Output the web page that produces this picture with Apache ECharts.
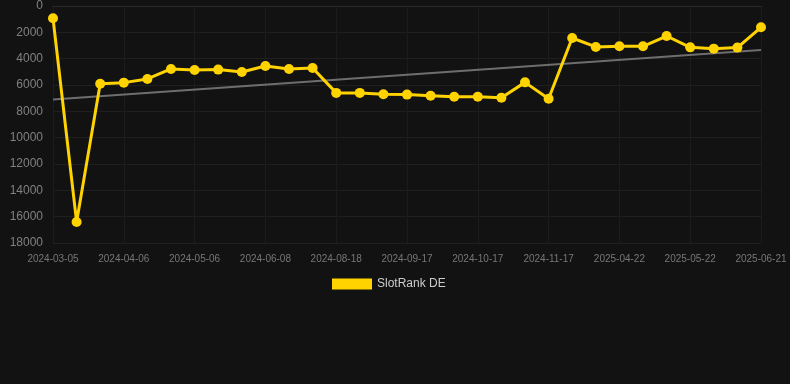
<!DOCTYPE html>
<html>
<head>
<meta charset="utf-8">
<script src="https://cdn.jsdelivr.net/npm/echarts@6/dist/echarts.min.js"></script>
<style>
	html, body { margin: 0; padding: 0; background: #121212; }
	#chart { width: 790px; height: 384px; }
</style>
</head>
<body>
<div id="chart"></div>
<script>
var dates = ['2024-03-05', '2024-03-16', '2024-03-26', '2024-04-06', '2024-04-16', '2024-04-26',
	'2024-05-06', '2024-05-16', '2024-05-27', '2024-06-08', '2024-06-20', '2024-07-15',
	'2024-08-18', '2024-08-28', '2024-09-07', '2024-09-17', '2024-09-27', '2024-10-07',
	'2024-10-17', '2024-10-27', '2024-11-06', '2024-11-17', '2025-03-23', '2025-04-02',
	'2025-04-22', '2025-05-02', '2025-05-12', '2025-05-22', '2025-06-01', '2025-06-11',
	'2025-06-21'];
var rankDE = [930, 16400, 5900, 5820, 5540, 4780, 4860, 4830, 5010, 4560, 4780, 4710,
	6600, 6600, 6700, 6730, 6810, 6890, 6890, 6960, 5800, 7040,
	2430, 3110, 3060, 3060, 2280, 3140, 3240, 3160, 1620];
var trendStart = 7110;
var trendEnd = 3340;
var yTicks = { min: 0, max: 18000, interval: 2000 };

var chart = echarts.init(document.getElementById('chart'));
var last = dates.length - 1;

chart.setOption({
	backgroundColor: '#121212',
	animation: false,
	grid: { left: 53, right: 29, top: 6, bottom: 141 },
	legend: {
		show: true,
		top: 273,
		left: 327,
		icon: 'rect',
		itemWidth: 40,
		itemHeight: 11,
		itemGap: 10,
		data: ['SlotRank DE'],
		textStyle: { color: '#cccccc', fontSize: 12, fontFamily: 'Liberation Sans' }
	},
	xAxis: {
		type: 'category',
		boundaryGap: false,
		data: dates,
		axisLine: { show: true, lineStyle: { color: '#2a2a2a', width: 1 } },
		axisTick: { show: false },
		axisLabel: {
			interval: 2,
			color: '#777777',
			fontSize: 10,
			margin: 11,
			fontFamily: 'Liberation Sans'
		},
		splitLine: { show: true, interval: 2, lineStyle: { color: '#1c1c1c', width: 1 } }
	},
	yAxis: {
		type: 'value',
		inverse: true,
		min: yTicks.min,
		max: yTicks.max,
		interval: yTicks.interval,
		axisLine: { show: false },
		axisTick: { show: false },
		axisLabel: {
			color: '#808080',
			fontSize: 12,
			margin: 10,
			fontFamily: 'Liberation Sans',
			formatter: function (v) { return String(v); }
		},
		splitLine: { show: true, lineStyle: { color: '#1f1f1f', width: 1 } }
	},
	series: [{
		name: 'SlotRank DE',
		type: 'line',
		data: rankDE,
		color: '#ffd300',
		symbol: 'circle',
		symbolSize: 10,
		lineStyle: { width: 3, color: '#ffd300' },
		itemStyle: { color: '#ffd300' },
		z: 3
	}, {
		name: 'trend',
		type: 'line',
		data: [[0, trendStart], [last, trendEnd]],
		symbol: 'none',
		lineStyle: { width: 2, color: '#6e6e6e' },
		z: 2
	}]
});
</script>
</body>
</html>
